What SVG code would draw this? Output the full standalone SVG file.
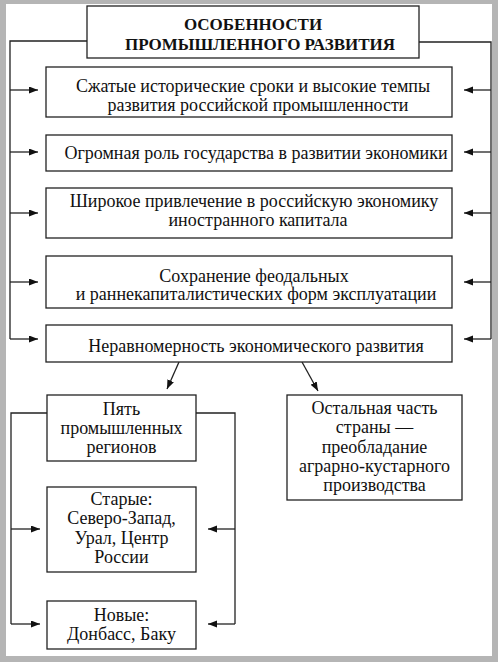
<svg xmlns="http://www.w3.org/2000/svg" width="498" height="662" viewBox="0 0 498 662">
<style>
.box{fill:#fff;stroke:#222;stroke-width:1.3}
.t{font-family:"Liberation Serif","Times New Roman",serif;font-size:18px;fill:#111;text-anchor:middle}
.h{font-family:"Liberation Serif","Times New Roman",serif;font-size:17px;font-weight:bold;fill:#111;text-anchor:middle}
.c{fill:none;stroke:#222;stroke-width:1.3}
</style>
<defs>
<marker id="ah" markerUnits="userSpaceOnUse" markerWidth="10" markerHeight="8" refX="9" refY="3.5" orient="auto">
<path d="M0,0 L9,3.5 L0,7 z" fill="#111"/>
</marker>
</defs>
<rect x="0" y="0" width="498" height="662" fill="#b5b5b5"/>
<rect x="6" y="4" width="486" height="652" fill="#fff"/>
<g id="connectors">
<path class="c" d="M87,41 H10 V339"/>
<path class="c" d="M419,42 H491 V339"/>
<path class="c" d="M10,90 H38" marker-end="url(#ah)"/>
<path class="c" d="M10,152 H38" marker-end="url(#ah)"/>
<path class="c" d="M10,213 H38" marker-end="url(#ah)"/>
<path class="c" d="M10,282 H38" marker-end="url(#ah)"/>
<path class="c" d="M10,339 H38" marker-end="url(#ah)"/>
<path class="c" d="M491,90 H464" marker-end="url(#ah)"/>
<path class="c" d="M491,152 H464" marker-end="url(#ah)"/>
<path class="c" d="M491,213 H464" marker-end="url(#ah)"/>
<path class="c" d="M491,282 H464" marker-end="url(#ah)"/>
<path class="c" d="M491,339 H464" marker-end="url(#ah)"/>
<path class="c" d="M179,362 L167,389" marker-end="url(#ah)"/>
<path class="c" d="M302,362 L318,391" marker-end="url(#ah)"/>
<path class="c" d="M47,413 H11 V624"/>
<path class="c" d="M196,413 H235 V624"/>
<path class="c" d="M11,529 H40" marker-end="url(#ah)"/>
<path class="c" d="M11,624 H40" marker-end="url(#ah)"/>
<path class="c" d="M235,529 H208" marker-end="url(#ah)"/>
<path class="c" d="M235,624 H208" marker-end="url(#ah)"/>
</g>
<g id="title">
<rect class="box" x="87" y="6" width="332" height="52"/>
<text class="h" x="253" y="30">ОСОБЕННОСТИ</text>
<text class="h" x="260" y="50">ПРОМЫШЛЕННОГО РАЗВИТИЯ</text>
</g>
<g id="n1">
<rect class="box" x="46" y="67" width="406" height="50"/>
<text class="t" x="253" y="92">Сжатые исторические сроки и высокие темпы</text>
<text class="t" x="258" y="111">развития российской промышленности</text>
</g>
<g id="n2">
<rect class="box" x="46" y="135" width="406" height="36"/>
<text class="t" x="256" y="159">Огромная роль государства в развитии экономики</text>
</g>
<g id="n3">
<rect class="box" x="46" y="188" width="406" height="50"/>
<text class="t" x="254" y="207">Широкое привлечение в российскую экономику</text>
<text class="t" x="258" y="226">иностранного капитала</text>
</g>
<g id="n4">
<rect class="box" x="46" y="256" width="406" height="52"/>
<text class="t" x="254" y="282">Сохранение феодальных</text>
<text class="t" x="256" y="300">и раннекапиталистических форм эксплуатации</text>
</g>
<g id="n5">
<rect class="box" x="46" y="325" width="406" height="37"/>
<text class="t" x="256" y="352">Неравномерность экономического развития</text>
</g>
<g id="n6">
<rect class="box" x="47" y="395" width="149" height="66"/>
<text class="t" x="121.5" y="415">Пять</text>
<text class="t" x="121.5" y="434">промышленных</text>
<text class="t" x="121.5" y="453">регионов</text>
</g>
<g id="n7">
<rect class="box" x="287" y="395" width="175" height="105"/>
<text class="t" x="374.5" y="414">Остальная часть</text>
<text class="t" x="374.5" y="433">страны —</text>
<text class="t" x="374.5" y="453">преобладание</text>
<text class="t" x="374.5" y="472">аграрно-кустарного</text>
<text class="t" x="374.5" y="491">производства</text>
</g>
<g id="n8">
<rect class="box" x="47" y="487" width="149" height="85"/>
<text class="t" x="121.5" y="505">Старые:</text>
<text class="t" x="121.5" y="524">Северо-Запад,</text>
<text class="t" x="121.5" y="544">Урал, Центр</text>
<text class="t" x="121.5" y="563">России</text>
</g>
<g id="n9">
<rect class="box" x="47" y="601" width="149" height="48"/>
<text class="t" x="121.5" y="621">Новые:</text>
<text class="t" x="121.5" y="640">Донбасс, Баку</text>
</g>
</svg>
